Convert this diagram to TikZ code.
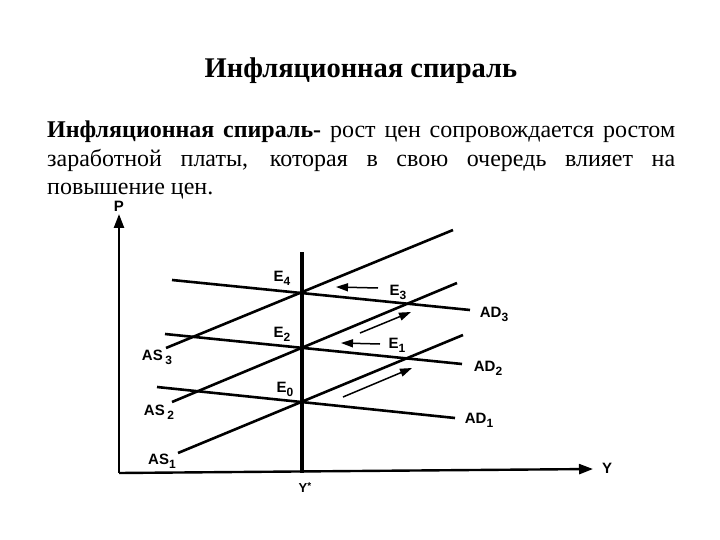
\documentclass[tikz,border=0pt]{standalone}
\usepackage{fontspec}
\setmainfont{Liberation Serif}
\newfontfamily\lblfont{Liberation Sans}
\usetikzlibrary{arrows.meta}
\newcommand\lsub[1]{\raisebox{-0.5ex}{\fontsize{12}{12}\selectfont #1}}
\begin{document}
\begin{tikzpicture}[x=1pt,y=-1pt,
  curve/.style={line width=2.6pt},
  axisline/.style={line width=2.4pt,-{Triangle[length=14pt,width=10pt]}},
  shift arrow/.style={line width=1.5pt,-{Triangle[length=12pt,width=8pt]}},
  lbl/.style={font=\lblfont\bfseries\fontsize{15}{15}\selectfont, inner sep=0pt},
  para/.style={font=\fontsize{24}{29}\selectfont, inner sep=0pt, anchor=base west}]
\useasboundingbox (0,0) rectangle (720,540);
\fill[white] (0,0) rectangle (720,540);

% title and text
\node[font=\bfseries\fontsize{28.5}{31}\selectfont, anchor=base, inner sep=0pt] (title) at (361,78) {Инфляционная спираль};
\node[para] (line1) at (47,138) {\makebox[628pt][s]{\textbf{Инфляционная спираль-} рост цен сопровождается ростом}};
\node[para] (line2) at (47,167) {\makebox[628pt][s]{заработной платы, которая в свою очередь влияет на}};
\node[para] (line3) at (47,195) {повышение цен.};

% axes
\coordinate (O) at (119,473);
\coordinate (Ptip) at (119,214);
\coordinate (Ytip) at (593,469);
\draw[axisline] (O) -- (Ptip);
\draw[axisline] (O) -- (Ytip);
\node[lbl] (P) at (119,206) {P};
\node[lbl] (Y) at (607,468) {Y};

% potential output
\coordinate (ystarTop) at (302,252);
\coordinate (ystarBot) at (302,473);
\draw[line width=3.6pt] (ystarTop) -- (ystarBot);
\node[lbl, font=\lblfont\bfseries\fontsize{13}{13}\selectfont] (ystar) at (305,488) {Y\raisebox{0.45ex}{\fontsize{10}{10}\selectfont*}};

% AD curves
\coordinate (ad3a) at (172,280); \coordinate (ad3b) at (470,310);
\coordinate (ad2a) at (165,334); \coordinate (ad2b) at (462,364);
\coordinate (ad1a) at (157,387); \coordinate (ad1b) at (455,418);
\draw[curve] (ad3a) -- (ad3b);
\draw[curve] (ad2a) -- (ad2b);
\draw[curve] (ad1a) -- (ad1b);

% AS curves
\coordinate (as1a) at (178,453); \coordinate (as1b) at (463,335);
\coordinate (as2a) at (172,402); \coordinate (as2b) at (457,283);
\coordinate (as3a) at (166,348); \coordinate (as3b) at (453,230);
\draw[curve] (as1a) -- (as1b);
\draw[curve] (as2a) -- (as2b);
\draw[curve] (as3a) -- (as3b);

% labels
\node[lbl] (AD3) at (494,314) {AD\lsub{3}};
\node[lbl] (AD2) at (488,368) {AD\lsub{2}};
\node[lbl] (AD1) at (479,420) {AD\lsub{1}};
\node[lbl] (AS3) at (157,357) {AS\,\lsub{3}};
\node[lbl] (AS2) at (159,412) {AS\,\lsub{2}};
\node[lbl] (AS1) at (162,461) {AS\lsub{1}};
\node[lbl] (E4) at (282,278) {E\lsub{4}};
\node[lbl] (E2) at (282,334) {E\lsub{2}};
\node[lbl] (E0) at (285,389) {E\lsub{0}};
\node[lbl] (E3) at (398,292) {E\lsub{3}};
\node[lbl] (E1) at (397,345) {E\lsub{1}};

% movement arrows
\coordinate (m1s) at (378,288); \coordinate (m1e) at (336,287);
\coordinate (m2s) at (380,344); \coordinate (m2e) at (341,343);
\coordinate (m3s) at (360,333); \coordinate (m3e) at (411,312);
\coordinate (m4s) at (343,397); \coordinate (m4e) at (412,368);
\draw[shift arrow] (m1s) -- (m1e);
\draw[shift arrow] (m2s) -- (m2e);
\draw[shift arrow] (m3s) -- (m3e);
\draw[shift arrow] (m4s) -- (m4e);
\end{tikzpicture}
\end{document}
